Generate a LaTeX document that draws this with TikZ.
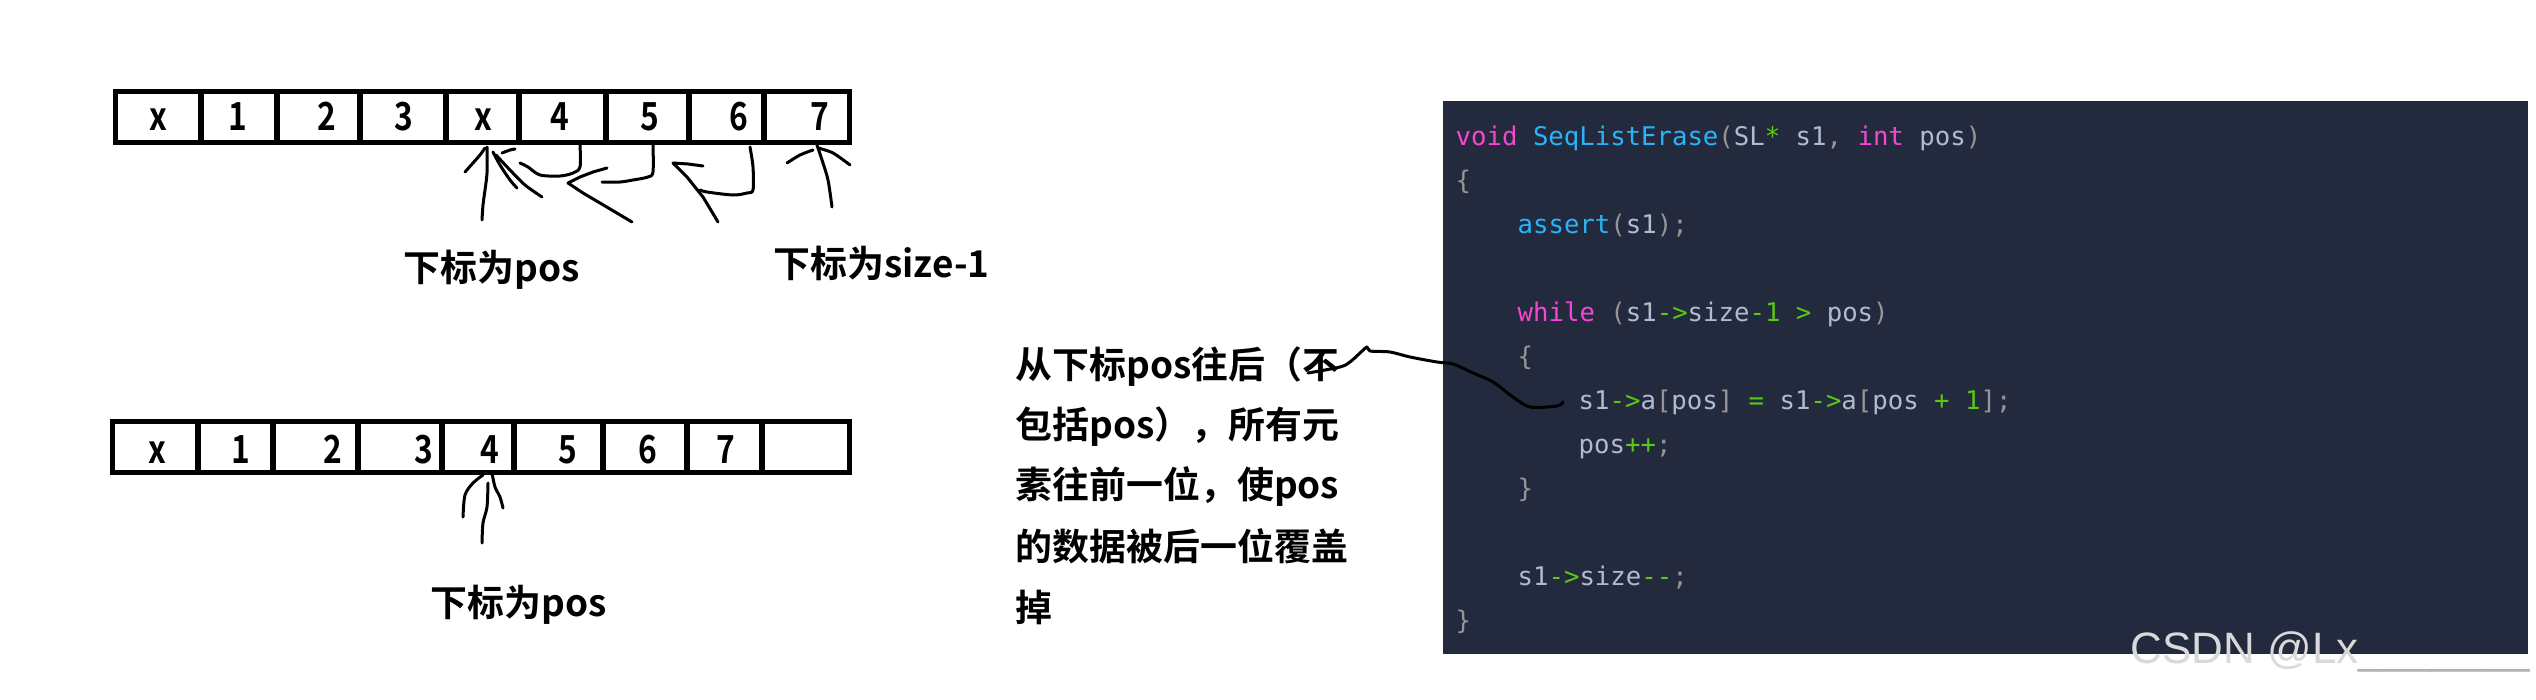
\documentclass[tikz,border=0pt]{standalone}
\usepackage{fontspec}
\usepackage{xcolor}
\usepackage{tikz}
\usetikzlibrary{positioning}

\newfontfamily\cjkb{Noto Sans CJK SC Bold}
\newfontfamily\numfont{Noto Sans CJK SC Bold}[FakeStretch=0.82]
\newfontfamily\codefont{DejaVu Sans Mono}
\newfontfamily\markfont{Liberation Sans}

\definecolor{codebg}{RGB}{35,42,62}
\definecolor{kwpink}{RGB}{245,70,210}
\definecolor{fnblue}{RGB}{40,180,250}
\definecolor{plaintxt}{RGB}{175,188,205}
\definecolor{punct}{RGB}{150,150,150}
\definecolor{opgreen}{RGB}{90,200,20}

\newcommand{\ckw}[1]{\textcolor{kwpink}{#1}}
\newcommand{\cfn}[1]{\textcolor{fnblue}{#1}}
\newcommand{\cpl}[1]{\textcolor{plaintxt}{#1}}
\newcommand{\cpu}[1]{\textcolor{punct}{#1}}
\newcommand{\cop}[1]{\textcolor{opgreen}{#1}}

\begin{document}
\begin{tikzpicture}[x=0.01cm, y=-0.01cm,
  cell/.style={draw, line width=0.05cm, minimum height=0.5cm, inner sep=0},
  num/.style={anchor=base, inner sep=0, font=\numfont\fontsize{11pt}{12pt}\selectfont},
  tag/.style={anchor=base west, inner sep=0, font=\cjkb\fontsize{10.5pt}{12pt}\selectfont},
  code/.style={anchor=base west, inner sep=0, font=\codefont\fontsize{7.3pt}{9pt}\selectfont},
  hand/.style={line width=0.03cm, line cap=round, line join=round}]
\useasboundingbox (0,0) rectangle (2536,700);

% Array before erase
\node[cell, minimum width=0.85cm] (a1) at (158.5,117) {};
\node[cell, minimum width=0.76cm] (a2) at (239,117) {};
\node[cell, minimum width=0.83cm] (a3) at (318.5,117) {};
\node[cell, minimum width=0.86cm] (a4) at (403,117) {};
\node[cell, minimum width=0.73cm] (a5) at (482.5,117) {};
\node[cell, minimum width=0.87cm] (a6) at (562.5,117) {};
\node[cell, minimum width=0.83cm] (a7) at (647.5,117) {};
\node[cell, minimum width=0.75cm] (a8) at (726.5,117) {};
\node[cell, minimum width=0.85cm] (a9) at (806.5,117) {};
\node[num] (na1) at (158,130) {x};
\node[num] (na2) at (238,130) {1};
\node[num] (na3) at (327,130) {2};
\node[num] (na4) at (404,130) {3};
\node[num] (na5) at (483,130) {x};
\node[num] (na6) at (560,130) {4};
\node[num] (na7) at (650,130) {5};
\node[num] (na8) at (739,130) {6};
\node[num] (na9) at (820,130) {7};

% Hand drawn marks under the first array
\draw[hand] plot[smooth] coordinates {(482,220) (483,205) (485,190) (487,173) (487,147)};
\draw[hand] plot[smooth] coordinates {(465,172) (473,163) (480,155) (485,148)};
\draw[hand] plot[smooth] coordinates {(493,152) (500,165) (510,180) (517,188)};
\draw[hand] plot[smooth] coordinates {(496,155) (510,170) (525,185) (542,197)};
\draw[hand] plot[smooth] coordinates {(502,153) (510,150) (515,149)};
\draw[hand] plot[smooth] coordinates {(580,145) (580,167) (573,173) (560,176) (540,175) (528,167) (520,163)};
\draw[hand] plot coordinates {(607,168) (593,172) (580,177) (568,183) (583,193) (600,203) (632,222)};
\draw[hand] plot[smooth] coordinates {(653,145) (653,172) (648,177) (633,180) (620,182) (602,182)};
\draw[hand] plot[smooth] coordinates {(750,147) (753,167) (753,190) (747,193) (733,195) (707,192) (700,190)};
\draw[hand] plot coordinates {(703,166) (688,164) (673,163) (687,177) (703,197) (718,222)};
\draw[hand] plot[smooth] coordinates {(817,145) (822,160) (828,180) (832,207)};
\draw[hand] plot[smooth] coordinates {(787,163) (800,155) (813,150)};
\draw[hand] plot[smooth] coordinates {(818,148) (833,153) (850,165)};

\node[tag] (pos1) at (403,281) {下标为pos};
\node[tag] (last) at (773,277) {下标为size-1};

% Array after erase
\node[cell, minimum width=0.85cm] (b1) at (155.5,447) {};
\node[cell, minimum width=0.75cm] (b2) at (235.5,447) {};
\node[cell, minimum width=0.85cm] (b3) at (315.5,447) {};
\node[cell, minimum width=0.84cm] (b4) at (400,447) {};
\node[cell, minimum width=0.72cm] (b5) at (478,447) {};
\node[cell, minimum width=0.89cm] (b6) at (558.5,447) {};
\node[cell, minimum width=0.84cm] (b7) at (645,447) {};
\node[cell, minimum width=0.75cm] (b8) at (724.5,447) {};
\node[cell, minimum width=0.87cm] (b9) at (805.5,447) {};
\node[num] (nb1) at (157,463) {x};
\node[num] (nb2) at (241,463) {1};
\node[num] (nb3) at (333,463) {2};
\node[num] (nb4) at (424,463) {3};
\node[num] (nb5) at (490,463) {4};
\node[num] (nb6) at (568,463) {5};
\node[num] (nb7) at (648,463) {6};
\node[num] (nb8) at (726,463) {7};

\draw[hand] plot[smooth] coordinates {(488,483) (487,507) (483,523) (482,543)};
\draw[hand] plot[smooth] coordinates {(483,475) (473,483) (465,495) (463,517)};
\draw[hand] plot[smooth] coordinates {(492,473) (495,487) (500,497) (503,508)};

\node[tag] (pos2) at (430,616) {下标为pos};

% Explanation
\node[tag] (l1) at (1015,378) {从下标pos往后（不};
\node[tag] (l2) at (1015,438) {包括pos），所有元};
\node[tag] (l3) at (1015,498) {素往前一位，使pos};
\node[tag] (l4) at (1015,560) {的数据被后一位覆盖};
\node[tag] (l5) at (1015,621) {掉};

% Code panel
\node[fill=codebg, minimum width=10.85cm, minimum height=5.53cm, inner sep=0, anchor=north west] (codebox) at (1442,100) {};
\node[code] (c1) at (1455,145) {\ckw{void} \cfn{SeqListErase}\cpu{(}\cpl{SL}\cop{*} \cpl{s1}\cpu{,} \ckw{int} \cpl{pos}\cpu{)}};
\node[code] (c2) at (1455,189) {\cpu{\{}};
\node[code] (c3) at (1517,233) {\cfn{assert}\cpu{(}\cpl{s1}\cpu{);}};
\node[code] (c4) at (1517,321) {\ckw{while} \cpu{(}\cpl{s1}\cop{->}\cpl{size}\cop{-1} \cop{>} \cpl{pos}\cpu{)}};
\node[code] (c5) at (1517,365) {\cpu{\{}};
\node[code] (c6) at (1578,409) {\cpl{s1}\cop{->}\cpl{a}\cpu{[}\cpl{pos}\cpu{]} \cop{=} \cpl{s1}\cop{->}\cpl{a}\cpu{[}\cpl{pos} \cop{+} \cop{1}\cpu{];}};
\node[code] (c7) at (1578,453) {\cpl{pos}\cop{++}\cpu{;}};
\node[code] (c8) at (1517,497) {\cpu{\}}};
\node[code] (c9) at (1517,585) {\cpl{s1}\cop{->}\cpl{size}\cop{-{}-}\cpu{;}};
\node[code] (c10) at (1455,629) {\cpu{\}}};

% Link from the note to the loop body
\draw[hand] plot[smooth] coordinates {(1308,373) (1340,367) (1350,362) (1360,353) (1367,347) (1370,351) (1390,352) (1410,357) (1437,362) (1453,364) (1473,373) (1493,382) (1513,397) (1530,407) (1557,406) (1563,402)};

\node[anchor=base west, inner sep=0, font=\markfont\fontsize{12.5pt}{14pt}\selectfont, text=gray!30] (mark) at (2130,663) {CSDN @Lx\textcolor{gray!60}{\_\_\_\_\_\_\_}};
\end{tikzpicture}
\end{document}
